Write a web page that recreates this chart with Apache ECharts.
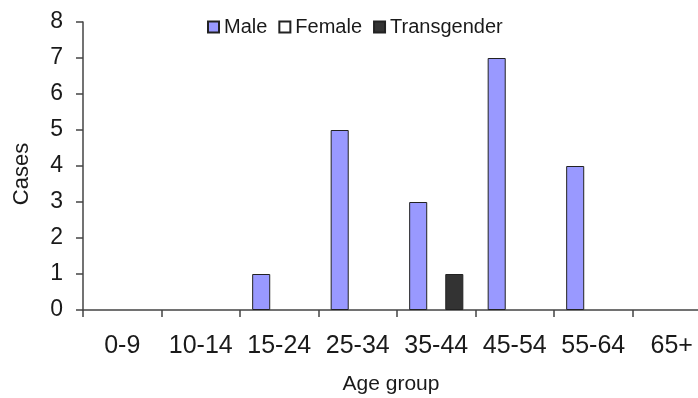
<!DOCTYPE html>
<html>
<head>
<meta charset="utf-8">
<script src="https://cdn.jsdelivr.net/npm/echarts@6/dist/echarts.min.js"></script>
<style>html,body{margin:0;padding:0;background:#fff}#c{width:698px;height:398px}</style>
</head>
<body>
<div id="c"></div>
<script>
const categories = ['0-9','10-14','15-24','25-34','35-44','45-54','55-64','65+'];
const male = [0,0,1,5,3,7,4,0];
const female = [0,0,0,0,0,0,0,0];
const transgender = [0,0,0,0,1,0,0,0];
const yTicks = [0,1,2,3,4,5,6,7,8];

const FONT = '"Liberation Sans", Arial, sans-serif';
// zero-height bars carry no visible outline
const toItems = arr => arr.map(v => v === 0 ? {value: v, itemStyle: {borderWidth: 0}} : v);

const chart = echarts.init(document.getElementById('c'), null, {renderer:'canvas'});
chart.setOption({
  animation:false,
  backgroundColor:'#fff',
  textStyle:{fontFamily:FONT},
  legend:{
    left:202, top:12, itemWidth:11, itemHeight:11, itemGap:11,
    icon:'rect',
    textStyle:{fontSize:20, color:'#1a1a1a', fontFamily:FONT},
    data:['Male','Female','Transgender']
  },
  grid:{left:83, right:-13, top:22, bottom:88, containLabel:false, outerBoundsMode:'none'},
  xAxis:{
    type:'category', data:categories,
    name:'Age group', nameLocation:'middle', nameGap:64,
    nameTextStyle:{fontSize:21, color:'#1a1a1a', fontFamily:FONT, padding:[0,12,0,0]},
    axisLine:{lineStyle:{color:'#444', width:1.5}},
    axisTick:{show:true, length:7, lineStyle:{color:'#444', width:1.5}},
    axisLabel:{fontSize:25, color:'#1a1a1a', margin:24, fontFamily:FONT, interval:0},
    splitLine:{show:false}
  },
  yAxis:{
    type:'value', min:yTicks[0], max:yTicks[yTicks.length-1], interval:1,
    name:'Cases', nameLocation:'middle', nameGap:50, nameRotate:90,
    nameTextStyle:{fontSize:22, color:'#1a1a1a', fontFamily:FONT, padding:[0,16,0,0]},
    axisLine:{show:true, lineStyle:{color:'#444', width:1.5}},
    axisTick:{show:true, length:7, lineStyle:{color:'#444', width:1.5}},
    axisLabel:{fontSize:23, color:'#1a1a1a', margin:20, fontFamily:FONT},
    splitLine:{show:false}
  },
  series:[
    {name:'Male', type:'bar', data:toItems(male), barGap:'0%', barCategoryGap:'31%',
     itemStyle:{color:'#9999ff', borderColor:'#222', borderWidth:1}},
    {name:'Female', type:'bar', data:toItems(female),
     itemStyle:{color:'#ffffff', borderColor:'#222', borderWidth:1}},
    {name:'Transgender', type:'bar', data:toItems(transgender),
     itemStyle:{color:'#333333', borderColor:'#222', borderWidth:1}}
  ]
});
</script>
</body>
</html>
